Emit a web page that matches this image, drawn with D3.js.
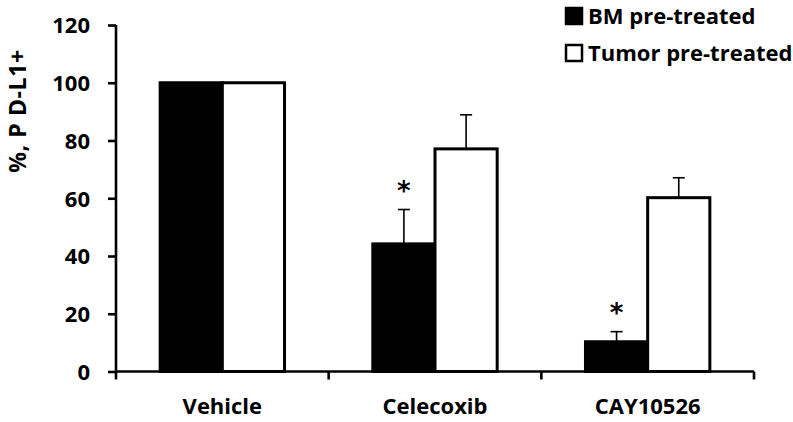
<!DOCTYPE html>
<html>
<head>
<meta charset="utf-8">
<script src="https://cdn.jsdelivr.net/npm/d3@7"></script>
<style>
  body { margin: 0; background: #fff; }
  text { font-family: "Open Sans", "Noto Sans", sans-serif; font-weight: bold; fill: #000; }
</style>
</head>
<body>
<div id="chart"></div>
<script>
// bar chart: PD-L1+ percentage by treatment

var categories = ["Vehicle", "Celecoxib", "CAY10526"];
var series = ["BM pre-treated", "Tumor pre-treated"];
var bmValues = [100, 44.2, 10.3];
var bmErrors = [0, 11.9, 3.5];
var tumorValues = [100, 77.1, 60.2];
var tumorErrors = [0, 11.8, 6.9];
var bmSignificant = [false, true, true];
var yTicks = [0, 20, 40, 60, 80, 100, 120];

var width = 793, height = 422;
var margin = {left: 116, right: 39, top: 25, bottom: 50.5};
var fontSize = "22px";

var svg = d3.select("#chart")
    .append("svg")
    .attr("width", width)
    .attr("height", height);

var x = d3.scaleBand()
    .domain(categories)
    .range([margin.left, width - margin.right])
    .paddingInner(0)
    .paddingOuter(0);

var xSub = d3.scaleBand()
    .domain(series)
    .range([0, x.bandwidth()])
    .paddingInner(0)
    .paddingOuter(0.71);

var y = d3.scaleLinear()
    .domain([0, 120])
    .range([height - margin.bottom, margin.top]);

// rows for bars
var rows = [];
categories.forEach(function(c, i) {
    rows.push({cat: c, s: series[0], v: bmValues[i], e: bmErrors[i], star: bmSignificant[i], fill: "#000"});
    rows.push({cat: c, s: series[1], v: tumorValues[i], e: tumorErrors[i], star: false, fill: "#fff"});
});

// error bars (drawn first, bars cover the lower part)
var errs = svg.append("g").selectAll("g")
    .data(rows.filter(function(d) { return d.e > 0; }))
    .enter().append("g");

errs.append("line")
    .attr("x1", function(d) { return x(d.cat) + xSub(d.s) + xSub.bandwidth() / 2; })
    .attr("x2", function(d) { return x(d.cat) + xSub(d.s) + xSub.bandwidth() / 2; })
    .attr("y1", function(d) { return y(d.v); })
    .attr("y2", function(d) { return y(d.v + d.e); })
    .attr("stroke", "#000")
    .attr("stroke-width", 1.6);

errs.append("line")
    .attr("x1", function(d) { return x(d.cat) + xSub(d.s) + xSub.bandwidth() / 2 - 6; })
    .attr("x2", function(d) { return x(d.cat) + xSub(d.s) + xSub.bandwidth() / 2 + 6; })
    .attr("y1", function(d) { return y(d.v + d.e); })
    .attr("y2", function(d) { return y(d.v + d.e); })
    .attr("stroke", "#000")
    .attr("stroke-width", 1.6);

// bars
svg.append("g").selectAll("rect")
    .data(rows)
    .enter().append("rect")
    .attr("x", function(d) { return x(d.cat) + xSub(d.s); })
    .attr("y", function(d) { return y(d.v); })
    .attr("width", xSub.bandwidth())
    .attr("height", function(d) { return y(0) - y(d.v); })
    .attr("fill", function(d) { return d.fill; })
    .attr("stroke", "#000")
    .attr("stroke-width", 3);

// asterisks
svg.append("g").selectAll("text")
    .data(rows.filter(function(d) { return d.star; }))
    .enter().append("text")
    .attr("x", function(d) { return x(d.cat) + xSub(d.s) + xSub.bandwidth() / 2; })
    .attr("y", function(d) { return y(d.v + d.e) - 10; })
    .attr("text-anchor", "middle")
    .style("font-size", "26px")
    .style("font-weight", "bold")
    .style("font-family", "'DejaVu Sans', sans-serif")
    .text("*");

// y axis
var yAxis = svg.append("g")
    .attr("transform", "translate(" + margin.left + ",0)")
    .call(d3.axisLeft(y).tickValues(yTicks).tickSize(8).tickSizeOuter(0).tickPadding(18));
yAxis.select(".domain").attr("stroke-width", 2.6)
    .attr("d", "M0," + y(120) + "V" + (y(0) + 8));
yAxis.selectAll(".tick line").attr("stroke-width", 2.6);
yAxis.selectAll(".tick text").style("font-size", fontSize)
    .style("font-family", "'Open Sans', sans-serif")
    .attr("dy", "0.36em");

// x axis with ticks at category boundaries
var xAxis = svg.append("g")
    .attr("transform", "translate(0," + y(0) + ")");
xAxis.append("line")
    .attr("x1", margin.left)
    .attr("x2", width - margin.right)
    .attr("stroke", "#000")
    .attr("stroke-width", 2.6);
xAxis.selectAll(".bound")
    .data(categories.slice(1).concat(["end"]))
    .enter().append("line")
    .attr("x1", function(d) { return d === "end" ? width - margin.right : x(d); })
    .attr("x2", function(d) { return d === "end" ? width - margin.right : x(d); })
    .attr("y1", 0)
    .attr("y2", 8)
    .attr("stroke", "#000")
    .attr("stroke-width", 2.6);
xAxis.selectAll(".cat")
    .data(categories)
    .enter().append("text")
    .attr("x", function(d) { return x(d) + x.bandwidth() / 2; })
    .attr("y", 42)
    .attr("text-anchor", "middle")
    .style("font-size", fontSize)
    .text(function(d) { return d; });

// y title
svg.append("text")
    .attr("transform", "translate(26,111) rotate(-90)")
    .attr("text-anchor", "middle")
    .style("font-size", "23px")
    .style("letter-spacing", "0.6px")
    .text("%, P D-L1+");

// legend
var legend = svg.append("g").selectAll("g")
    .data(series)
    .enter().append("g")
    .attr("transform", function(d, i) { return "translate(566," + (8 + i * 37) + ")"; });
legend.append("rect")
    .attr("width", 16)
    .attr("height", 16)
    .attr("fill", function(d, i) { return i === 0 ? "#000" : "#fff"; })
    .attr("stroke", "#000")
    .attr("stroke-width", 2.5);
legend.append("text")
    .attr("x", 22)
    .attr("y", 16)
    .style("font-size", fontSize)
    .text(function(d) { return d; });
</script>
</body>
</html>
